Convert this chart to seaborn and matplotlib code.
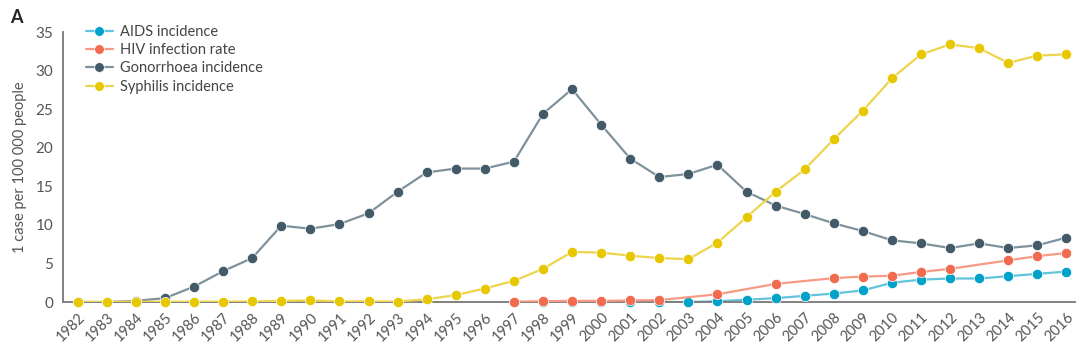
import pandas as pd
import seaborn as sns
import matplotlib.pyplot as plt
from matplotlib.lines import Line2D

# Values (cases per 100 000 people)
years = list(range(1982, 2017))

gonorrhoea = [0.0, 0.0, 0.15, 0.5, 2.0, 4.0, 5.7, 9.9, 9.5, 10.1, 11.5, 14.3,
              16.8, 17.3, 17.3, 18.2, 24.4, 27.6, 23.0, 18.6, 16.2, 16.6,
              17.8, 14.3, 12.5, 11.4, 10.2, 9.2, 8.0, 7.6, 7.0, 7.6, 7.0,
              7.35, 8.35]

syphilis = [0.02, 0.02, 0.03, 0.03, 0.05, 0.05, 0.07, 0.15, 0.2, 0.1, 0.08,
            0.06, 0.35, 0.9, 1.75, 2.75, 4.3, 6.5, 6.4, 6.0, 5.7, 5.55,
            7.7, 11.0, 14.3, 17.2, 21.1, 24.8, 29.0, 32.1, 33.4, 32.9, 31.0,
            31.95, 32.1]

hiv_years = [1997, 1998, 1999, 2000, 2001, 2002, 2004, 2006, 2008, 2009,
             2010, 2011, 2012, 2014, 2015, 2016]
hiv = [0.05, 0.1, 0.15, 0.15, 0.2, 0.25, 1.0, 2.35, 3.1, 3.3, 3.4, 3.9, 4.3,
       5.4, 5.95, 6.35]

aids_years = list(range(1997, 2017))
aids = [0.0, 0.0, 0.0, 0.0, 0.0, 0.0, 0.0, 0.1, 0.3, 0.5, 0.8, 1.1, 1.5,
        2.5, 2.9, 3.05, 3.05, 3.35, 3.65, 3.95]

labels = ['AIDS incidence', 'HIV infection rate',
          'Gonorrhoea incidence', 'Syphilis incidence']
marker_colors = ['#00A2C9', '#F26B4F', '#435B68', '#E6C700']
line_colors = ['#62C3DC', '#F79A85', '#7F929C', '#EDD44E']

frames = [
    pd.DataFrame({'Year': aids_years, 'Rate': aids, 'Series': labels[0]}),
    pd.DataFrame({'Year': hiv_years, 'Rate': hiv, 'Series': labels[1]}),
    pd.DataFrame({'Year': years, 'Rate': gonorrhoea, 'Series': labels[2]}),
    pd.DataFrame({'Year': years, 'Rate': syphilis, 'Series': labels[3]}),
]

sns.set_style('white')
plt.rcParams['font.family'] = ['Lato', 'DejaVu Sans']

fig = plt.figure(figsize=(10.8, 3.52), dpi=100)
ax = fig.add_axes([0.0585, 0.142, 0.937, 0.767])

z = 2
for df, lc, mc in zip(frames, line_colors, marker_colors):
    sns.lineplot(data=df, x='Year', y='Rate', color=lc, lw=1.6,
                 ax=ax, zorder=z)
    sns.scatterplot(data=df, x='Year', y='Rate', color=mc, s=55,
                    edgecolor='white', linewidth=0.5, ax=ax,
                    zorder=z + 1, clip_on=False)
    z += 2

ax.set_xlim(1981.5, 2016.3)
ax.set_ylim(0, 35)
ax.set_xticks(years)
ax.set_xticklabels([str(y) for y in years], rotation=45, ha='right',
                   rotation_mode='anchor')
ax.set_yticks(range(0, 36, 5))

for s in ['top', 'right']:
    ax.spines[s].set_visible(False)
for s in ['left', 'bottom']:
    ax.spines[s].set_color('#777777')
    ax.spines[s].set_linewidth(1.3)

ax.tick_params(axis='x', direction='out', length=4, width=1,
               color='#333333', labelsize=10.5, labelcolor='#555555', pad=2)
ax.tick_params(axis='y', direction='out', length=5, width=1,
               color='#777777', labelsize=11, labelcolor='#555555', pad=2)

ax.set_xlabel('')
ax.set_ylabel('1 case per 100 000 people', color='#555555', fontsize=10.5,
              labelpad=6)

handles = [Line2D([0], [0], color=lc, lw=1.6, marker='o', markersize=7,
                  markerfacecolor=mc, markeredgecolor='white',
                  markeredgewidth=0.5)
           for lc, mc in zip(line_colors, marker_colors)]
leg = ax.legend(handles, labels, loc='upper left', frameon=False,
                bbox_to_anchor=(0.012, 1.065), fontsize=10.5,
                handlelength=1.9, handletextpad=0.45, labelspacing=0.3,
                borderaxespad=0.3)
for t in leg.get_texts():
    t.set_color('#444444')

fig.text(0.009, 0.975, 'A', fontsize=13, fontweight='bold', color='#222222',
         va='top', ha='left')

fig.savefig('out.png', dpi=100)
